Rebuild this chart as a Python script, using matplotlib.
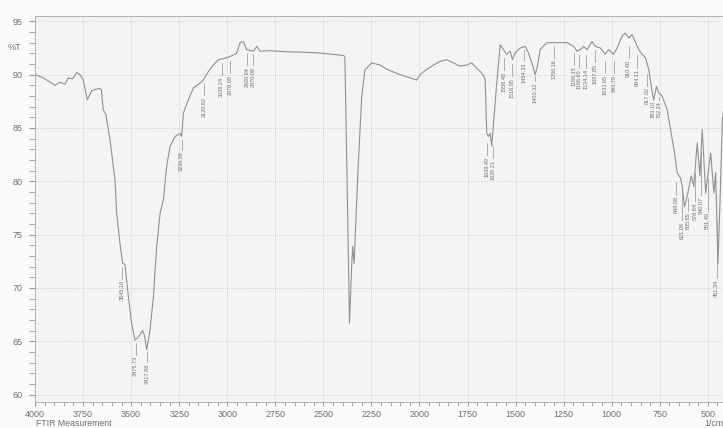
import numpy as np
import matplotlib
matplotlib.use("Agg")
import matplotlib.pyplot as plt
from matplotlib.ticker import MultipleLocator

plt.rcParams['font.family'] = ['Liberation Sans', 'DejaVu Sans']

# 光谱数据 (波数 1/cm, 透过率 %T)
wavenumber = [4000, 3957, 3930, 3896, 3870, 3844, 3827, 3805, 3783, 3766, 3749, 3735, 3728, 3718,
              3705, 3679, 3662, 3655, 3645, 3631, 3610, 3584, 3575, 3558, 3544, 3532, 3514, 3497,
              3480, 3462, 3440, 3430, 3419, 3402, 3384, 3367, 3349, 3332, 3315, 3297, 3271, 3245,
              3237, 3228, 3202, 3176, 3141, 3124, 3098, 3072, 3046, 3020, 2985, 2951, 2933, 2916,
              2899, 2864, 2846, 2829, 2780, 2700, 2600, 2534, 2450, 2396, 2388, 2378, 2364, 2352,
              2347, 2340, 2318, 2300, 2283, 2275, 2249, 2205, 2170, 2101, 2049, 2014, 1997, 1962,
              1927, 1892, 1858, 1823, 1789, 1754, 1728, 1702, 1684, 1665, 1658, 1650, 1641, 1632,
              1624, 1612, 1598, 1580, 1563, 1546, 1528, 1516, 1502, 1476, 1450, 1433, 1410, 1398,
              1386, 1372, 1337, 1302, 1233, 1198, 1180, 1163, 1146, 1128, 1102, 1085, 1059, 1033,
              1016, 990, 972, 946, 929, 911, 894, 877, 859, 842, 825, 807, 789, 781, 767, 755,
              738, 711, 685, 673, 659, 642, 633, 621, 607, 586, 573, 555, 541, 529, 511, 485,
              468, 459, 447, 436, 424, 412]
transmittance = [90.0, 89.7, 89.4, 89.0, 89.3, 89.1, 89.7, 89.6, 90.2, 90.0, 89.5, 88.3, 87.65, 88.0,
                 88.5, 88.65, 88.7, 88.6, 86.7, 86.25, 83.9, 80.15, 77.0, 74.15, 72.3, 72.2, 69.15, 66.6,
                 65.1, 65.4, 66.0, 65.5, 64.2, 66.0, 69.15, 73.9, 77.0, 78.3, 81.4, 83.3, 84.2, 84.5,
                 84.2, 86.4, 87.65, 88.75, 89.2, 89.5, 90.3, 90.9, 91.4, 91.5, 91.7, 92.0, 93.0, 93.1,
                 92.35, 92.2, 92.65, 92.2, 92.25, 92.15, 92.1, 92.05, 91.9, 91.8, 91.7, 81.7, 66.7, 72.3,
                 73.9, 72.3, 81.7, 88.0, 90.5, 90.6, 91.1, 90.9, 90.5, 90.0, 89.7, 89.5, 90.0, 90.5,
                 90.9, 91.25, 91.4, 91.1, 90.8, 90.9, 91.1, 90.6, 90.3, 89.9, 89.5, 84.5, 84.2, 84.5,
                 83.3, 86.0, 89.2, 92.8, 92.35, 91.9, 92.2, 91.4, 92.05, 92.5, 92.65, 92.05, 90.8, 90.0,
                 90.8, 92.35, 93.0, 93.0, 93.0, 92.65, 92.2, 92.35, 92.65, 92.35, 93.1, 92.65, 92.5, 91.9,
                 92.35, 91.9, 92.5, 93.6, 93.9, 93.45, 93.75, 93.1, 92.35, 91.9, 91.6, 90.5, 88.3, 87.65, 88.9, 88.3,
                 88.0, 86.7, 83.9, 82.65, 80.8, 80.3, 79.5, 77.6, 78.6, 80.5, 79.5, 83.6, 80.5, 84.85, 78.9, 82.65,
                 78.9, 80.8, 72.3, 78.3, 85.8, 87.5]

# 峰标注: 文本, 标注所在波数, 文本顶端 %T
peak_labels = ['3545.16', '3475.73', '3417.88', '3236.59', '3120.82', '3028.24', '2978.09',
               '2920.94', '2870.08', '1639.49', '1620.21', '1558.48', '1516.05', '1454.33',
               '1400.32', '1296.16', '1188.15', '1168.60', '1134.14', '1087.85', '1033.65',
               '983.79', '910.40', '864.11', '817.02', '783.10', '752.24', '648.08', '621.08',
               '605.65', '578.84', '540.07', '501.49', '451.34']
label_x = [3545, 3476, 3418, 3237, 3121, 3029, 2985, 2898, 2864, 1650, 1617, 1560, 1516, 1454,
           1400, 1298, 1196, 1168, 1134, 1087, 1034, 988, 912, 868, 817, 786, 752, 665, 635,
           601, 566, 534, 500, 453]
label_top = [70.7, 63.6, 62.9, 82.8, 87.9, 89.8, 90.0, 90.75, 90.75, 82.3, 82.0, 90.3, 89.7, 91.1,
             89.25, 91.4, 90.75, 90.5, 90.5, 91.0, 90.0, 90.0, 91.4, 90.5, 88.8, 87.5, 87.5, 78.6, 76.2,
             77.1, 78.0, 78.55, 77.1, 70.8]

line_col = '#909090'
text_col = '#6f6f6f'

fig = plt.figure(figsize=(7.23, 4.28), dpi=100, facecolor='#fafafa')
ax = fig.add_axes([35 / 723, 26 / 428, 692 / 723, 386 / 428])
ax.set_facecolor('#f4f4f6')

ax.plot(wavenumber, transmittance, color=line_col, lw=0.8)

# 峰位标注
xs = np.array(wavenumber[::-1], dtype=float)
ys = np.array(transmittance[::-1], dtype=float)
for txt, x, top in zip(peak_labels, label_x, label_top):
    y_curve = np.interp(x, xs, ys)
    y_end = top + 1.3 if y_curve - top < 3 else y_curve - 0.3
    ax.plot([x, x], [top + 0.15, min(y_curve - 0.3, y_end)], color=line_col, lw=0.5)
    ax.text(x, top, txt, rotation=90, ha='center', va='top', fontsize=4, color=text_col)

ax.set_xlim(4000, 400)
ax.set_ylim(59.3, 95.5)
ax.set_xticks([4000, 3750, 3500, 3250, 3000, 2750, 2500, 2250, 2000, 1750, 1500, 1250, 1000, 750, 500])
ax.xaxis.set_minor_locator(MultipleLocator(50))
ax.set_yticks([60, 65, 70, 75, 80, 85, 90, 95])
ax.yaxis.set_minor_locator(MultipleLocator(1))
ax.grid(True, which='major', color='#c4c4c8', lw=0.6, ls=(0, (1, 1.5)))
ax.tick_params(axis='both', which='both', colors='#9a9a9a', labelcolor=text_col, labelsize=6.5)
ax.tick_params(axis='x', which='major', length=3, pad=3)
ax.tick_params(axis='x', which='minor', length=3)
ax.tick_params(axis='y', which='major', length=4, pad=5)
ax.tick_params(axis='y', which='minor', length=4)
for s in ax.spines.values():
    s.set_color('#b0b0b4')
    s.set_linewidth(0.7)

fig.text(8 / 723, 1 - 47 / 428, '%T', fontsize=6.5, color=text_col, va='center')
fig.text(36 / 723, 1 - 424 / 428, 'FTIR Measurement', fontsize=6.3, color=text_col, va='center')
fig.text(704 / 723, 1 - 424 / 428, '1/cm', fontsize=6.3, color=text_col, va='center')

fig.savefig('out.png', dpi=100, facecolor=fig.get_facecolor())
